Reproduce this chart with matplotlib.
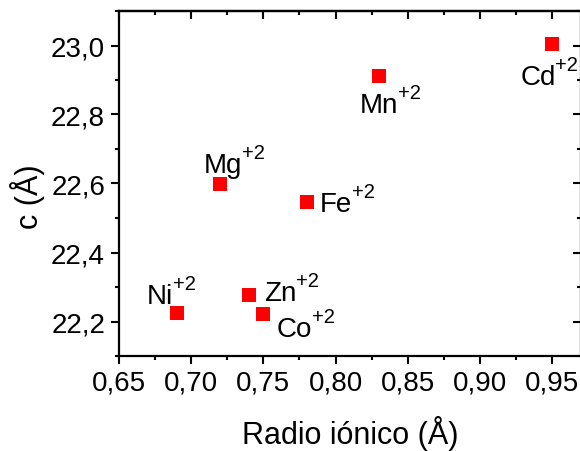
import matplotlib
matplotlib.use("Agg")
import matplotlib.pyplot as plt
from matplotlib.ticker import MultipleLocator, FuncFormatter

plt.rcParams['font.family'] = ['Liberation Sans', 'DejaVu Sans']

#%% Data
ions     = ['Ni', 'Mg', 'Zn', 'Co', 'Fe', 'Mn', 'Cd']
radius   = [0.69, 0.72, 0.74, 0.75, 0.78, 0.83, 0.95]
c_param  = [22.226, 22.598, 22.278, 22.223, 22.547, 22.911, 23.003]
charge   = '+2'

# label offsets in pixels from the marker to the text baseline start
offsets  = {'Ni': (-30, 10),
            'Mg': (-16, 12),
            'Zn': (15, -5),
            'Co': (13, -22),
            'Fe': (13, -9),
            'Mn': (-19, -36),
            'Cd': (-32, -40)}

#%% Figure
fig = plt.figure(figsize=(5.8, 4.52), dpi=100)
ax  = fig.add_axes([119/580, 1-357/452, 462/580, 345/452])

ax.plot(radius, c_param, 's', color='#ff0000', markersize=9.5, markeredgewidth=0)

for name, x, y in zip(ions, radius, c_param):
    dx, dy = offsets[name]
    t = ax.annotate(name, (x, y), xytext=(dx, dy), textcoords='offset pixels',
                    ha='left', va='baseline', fontsize=20)
    ax.annotate(charge, xy=(1, 1), xycoords=t, xytext=(0, 9),
                textcoords='offset pixels', ha='left', va='top', fontsize=14.5)

ax.set_xlim(0.65, 0.97)
ax.set_ylim(22.1, 23.1)
ax.xaxis.set_major_locator(MultipleLocator(0.05))
ax.xaxis.set_minor_locator(MultipleLocator(0.025))
ax.yaxis.set_major_locator(MultipleLocator(0.2))
ax.yaxis.set_minor_locator(MultipleLocator(0.1))
ax.xaxis.set_major_formatter(FuncFormatter(lambda v, p: f'{v:.2f}'.replace('.', ',')))
ax.yaxis.set_major_formatter(FuncFormatter(lambda v, p: f'{v:.1f}'.replace('.', ',')))

ax.tick_params(which='both', direction='out', width=1.5, labelsize=20)
ax.tick_params(which='major', length=6, pad=4)
ax.tick_params(which='minor', length=3)
for s in ax.spines.values():
    s.set_linewidth(1.6)

top = ax.secondary_xaxis('top')
top.xaxis.set_major_locator(MultipleLocator(0.05))
top.xaxis.set_minor_locator(MultipleLocator(0.025))
top.tick_params(which='both', direction='in', width=1.5, labeltop=False)
top.tick_params(which='major', length=6)
top.tick_params(which='minor', length=3)
top.spines['top'].set_linewidth(1.6)

right = ax.secondary_yaxis('right')
right.yaxis.set_major_locator(MultipleLocator(0.2))
right.yaxis.set_minor_locator(MultipleLocator(0.1))
right.tick_params(which='both', direction='in', width=1.5, labelright=False)
right.tick_params(which='major', length=6)
right.tick_params(which='minor', length=3)

ax.set_xlabel('Radio iónico (Å)', fontsize=22, labelpad=14)
ax.set_ylabel('c (Å)', fontsize=22)
ax.yaxis.set_label_coords(-0.16, 0.464)

fig.savefig('out.png', dpi=100)
